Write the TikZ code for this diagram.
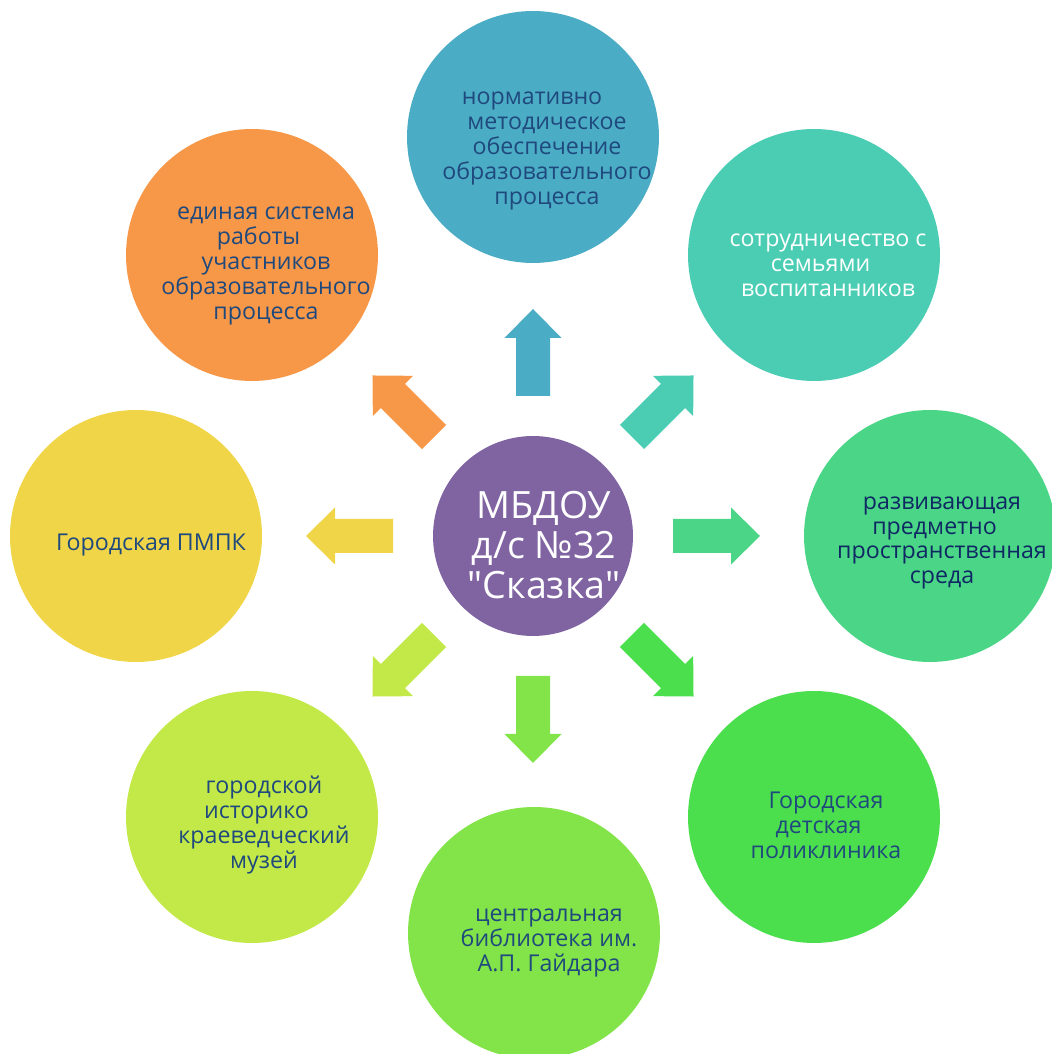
\documentclass[tikz,border=0pt]{standalone}
\usepackage{fontspec}
\setmainfont{Open Sans}[Ligatures=TeXOff]
\usepackage{xcolor}
\usepackage{tikz}
\usetikzlibrary{positioning}
\definecolor{hubpurple}{RGB}{128, 100, 162}
\definecolor{normblue}{RGB}{75, 172, 198}
\definecolor{familyteal}{RGB}{75, 205, 180}
\definecolor{envgreen}{RGB}{74, 214, 134}
\definecolor{clinicgreen}{RGB}{75, 223, 78}
\definecolor{librarygreen}{RGB}{130, 228, 72}
\definecolor{museumlime}{RGB}{194, 233, 72}
\definecolor{pmpkyellow}{RGB}{240, 213, 72}
\definecolor{unityorange}{RGB}{247, 152, 72}
\definecolor{textblue}{RGB}{31, 73, 125}
\definecolor{textnavy}{RGB}{15, 40, 100}
% block arrow pointing away from the hub
\newcommand{\blockarrow}[2]{\fill[#1, shift={(hub.center)}, rotate=#2] (140,-17) -- (198,-17) -- (198,-28.5) -- (227,0) -- (198,28.5) -- (198,17) -- (140,17) -- cycle;}
% trailing gap left after a broken word
\newcommand{\gap}{\hphantom{--}}

\begin{document}
\begin{tikzpicture}[
    x=0.02cm, y=0.02cm,
    bubble/.style={circle, minimum size=5.04cm, inner sep=0pt},
    caption/.style={align=center, text=textblue, font=\fontsize{13.2}{14.2}\selectfont}
]
    \useasboundingbox (0,0) rectangle (1051,1054);

    % hub
    \node[circle, minimum size=4cm, inner sep=0pt, fill=hubpurple] (hub) at (533,518) {};
    \node[align=center, text=white, font=\fontsize{21.4}{22.7}\selectfont] (hubT) at (544,509) {МБДОУ\\ д/с №32\\ "Сказка"};

    % outer circles
    \node[bubble, fill=normblue] (norm) at (533,917) {};
    \node[bubble, fill=familyteal] (family) at (814,799) {};
    \node[bubble, fill=envgreen] (env) at (930,518) {};
    \node[bubble, fill=clinicgreen] (clinic) at (814,237) {};
    \node[bubble, fill=librarygreen] (library) at (534,121) {};
    \node[bubble, fill=museumlime] (museum) at (252,237) {};
    \node[bubble, fill=pmpkyellow] (pmpk) at (136,518) {};
    \node[bubble, fill=unityorange] (unity) at (252,799) {};

    \node[caption] (normT) at (547,903) {нормативно\gap\gap\\ методическое\\ обеспечение\\ образовательного\\ процесса};
    \node[caption, text=white] (familyT) at (828,789) {сотрудничество с\\ семьями\gap\\ воспитанников};
    \node[caption, text=textnavy] (envT) at (942,511) {развивающая\\ предметно\gap\\ пространственная\\ среда};
    \node[caption] (clinicT) at (826,229) {Городская\\ детская\gap\\ поликлиника};
    \node[caption] (libraryT) at (549,111) {центральная\\ библиотека им.\\ А.П. Гайдара};
    \node[caption] (museumT) at (264,229) {городской\\ историко\gap\\ краеведческий\\ музей};
    \node[caption] (pmpkT) at (151,509) {Городская ПМПК};
    \node[caption] (unityT) at (266,788) {единая система\\ работы\gap\\ участников\\ образовательного\\ процесса};

    % arrows
    \blockarrow{normblue}{90}
    \blockarrow{familyteal}{45}
    \blockarrow{envgreen}{0}
    \blockarrow{clinicgreen}{-45}
    \blockarrow{librarygreen}{-90}
    \blockarrow{museumlime}{-135}
    \blockarrow{pmpkyellow}{180}
    \blockarrow{unityorange}{135}
\end{tikzpicture}
\end{document}
